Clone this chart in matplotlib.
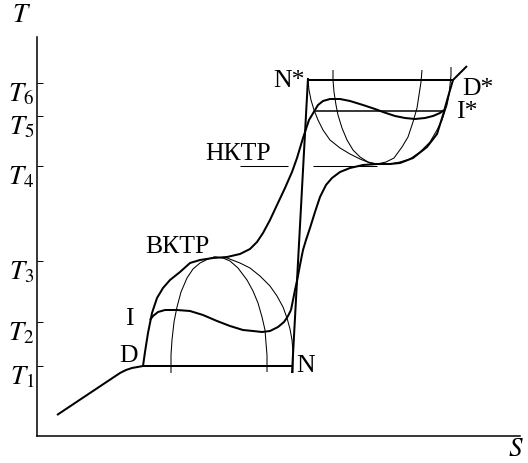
import matplotlib
matplotlib.use("Agg")
import matplotlib.pyplot as plt
import matplotlib.transforms as mtransforms

plt.rcParams['font.family'] = ['Liberation Serif', 'DejaVu Serif']
plt.rcParams['mathtext.fontset'] = 'stix'

# ---- data (schematic coordinates: S along x, T along y) ----
tick_T = [70, 114, 175, 270, 320, 353]
tick_labels = ['$T_1$', '$T_2$', '$T_3$', '$T_4$', '$T_5$', '$T_6$']

low_line_S = [57, 120, 126, 132, 143]
low_line_T = [21, 63, 66, 68, 70]

T1_line_S = [143, 293]
T1_line_T = [70, 70]

curveA_S = [143, 145, 148, 152, 157, 163, 170, 180, 190, 200, 213, 227, 240, 250,
            257, 263, 270, 277, 285, 292, 297, 303, 309, 315]
curveA_T = [70, 84, 103, 123, 138, 148, 156, 164, 173, 176, 178, 179, 182, 187,
            194, 203, 216, 231, 248, 264, 278, 298, 316, 326]

wave_low_S = [150, 153, 158, 165, 177, 190, 203, 217, 230, 243, 253, 262, 270, 278, 284, 288, 291]
wave_low_T = [116, 120, 124, 126, 126, 125, 121, 115, 110, 106, 105, 104, 105, 109, 114, 120, 126]

curveB_S = [291, 293, 295, 297, 300, 303, 306, 310, 315, 320, 326, 332, 340, 350, 363, 377,
            390, 400, 413, 427, 437, 443, 448, 453, 467]
curveB_T = [126, 136, 146, 155, 171, 186, 196, 208, 224, 239, 251, 258, 264, 268, 271, 272,
            272, 273, 278, 289, 302, 321, 339, 356, 370]

wave_up_S = [315, 318, 323, 330, 340, 350, 363, 375, 383, 395, 405, 415, 425, 433, 440, 444]
wave_up_T = [326, 331, 335, 337, 337, 335, 331, 327, 324, 320, 318, 317, 318, 320, 323, 326]

arc_in_S = [171, 171, 172, 174, 177, 181, 187, 193, 200, 208, 215, 223, 230, 238, 247, 253,
            258, 262, 265, 266, 267, 267]
arc_in_T = [63, 81, 96, 114, 129, 144, 158, 167, 173, 177, 179, 178, 175, 168, 156, 145,
            133, 119, 106, 93, 81, 64]

arc_out_S = [213, 227, 240, 250, 260, 270, 277, 283, 287, 290, 292, 293, 293, 293]
arc_out_T = [179, 178, 173, 168, 160, 150, 140, 129, 118, 107, 96, 84, 74, 63]

NN_S = [292, 308]
NN_T = [63, 358]

U_wide_S = [308, 309, 311, 314, 318, 323, 330, 340, 350, 360, 370, 377, 390, 400, 410, 420,
            430, 437, 442, 447, 449, 450, 451, 451]
U_wide_T = [356, 346, 336, 326, 316, 306, 296, 288, 282, 277, 273, 272, 272, 274, 277, 284,
            294, 306, 316, 331, 341, 351, 361, 369]

U_narrow_S = [333, 333, 334, 336, 338, 342, 347, 353, 360, 368, 377, 386, 394, 402, 408, 413,
              417, 419, 421, 422]
U_narrow_T = [366, 356, 344, 331, 321, 308, 296, 286, 279, 274, 272, 274, 278, 289, 299, 314,
              328, 341, 354, 366]

T6_line_S = [308, 453]
T6_line_T = [356, 356]
T5_line_S = [315, 444]
T5_line_T = [325, 325]
NKTP_seg1_S = [240, 288]
NKTP_seg2_S = [313, 377]
NKTP_T = [270, 270]

labels = ['N*', 'D*', 'I*', 'НКТР', 'ВКТР', 'I', 'D', 'N']
label_S = [305, 462, 456, 238, 177, 129, 129, 306]
label_T = [349, 341, 318, 276, 183, 111, 74, 64]
label_ha = ['right', 'left', 'left', 'center', 'center', 'center', 'center', 'center']

# ---- figure ----
W, H = 528, 463
fig = plt.figure(figsize=(W / 100, H / 100), dpi=100)
ax = fig.add_axes([37 / W, 27 / H, 483 / W, 399 / H])
ax.set_xlim(37, 520)
ax.set_ylim(0, 399)

thick = dict(color='black', lw=1.45, solid_capstyle='butt', solid_joinstyle='round')
thin = dict(color='black', lw=0.75, solid_capstyle='butt')

ax.plot(low_line_S, low_line_T, **thick)
ax.plot(T1_line_S, T1_line_T, **thick)
ax.plot(curveA_S, curveA_T, **thick)
ax.plot(wave_low_S, wave_low_T, **thick)
ax.plot(curveB_S, curveB_T, **thick)
ax.plot(wave_up_S, wave_up_T, **thick)
ax.plot(NN_S, NN_T, **thick)
ax.plot(T6_line_S, T6_line_T, **thick)
ax.plot(T5_line_S, T5_line_T, color='black', lw=1.1)
ax.plot(arc_in_S, arc_in_T, **thin)
ax.plot(arc_out_S, arc_out_T, **thin)
ax.plot(U_wide_S, U_wide_T, **thin)
ax.plot(U_narrow_S, U_narrow_T, **thin)
ax.plot(NKTP_seg1_S, NKTP_T, **thin)
ax.plot(NKTP_seg2_S, NKTP_T, **thin)

for txt, s, t, ha in zip(labels, label_S, label_T, label_ha):
    ax.text(s, t, txt, ha=ha, va='baseline', fontsize=18.5)

for side in ['top', 'right']:
    ax.spines[side].set_visible(False)
for side in ['left', 'bottom']:
    ax.spines[side].set_linewidth(1.1)

ax.set_xticks([])
ax.set_yticks(tick_T)
ax.set_yticklabels(tick_labels, fontsize=19.5)
ax.tick_params(axis='y', direction='in', length=4.5, width=0.7, pad=2)
offset = mtransforms.ScaledTranslation(0, -6 / 72, fig.dpi_scale_trans)
for lab in ax.get_yticklabels():
    lab.set_transform(lab.get_transform() + offset)

fig.text(22 / W, 1 - 15 / H, '$T$', fontsize=19.5, ha='center', va='center')
fig.text(516 / W, 1 - 450 / H, '$S$', fontsize=19.5, ha='center', va='center')

fig.savefig('out.png', dpi=100)
